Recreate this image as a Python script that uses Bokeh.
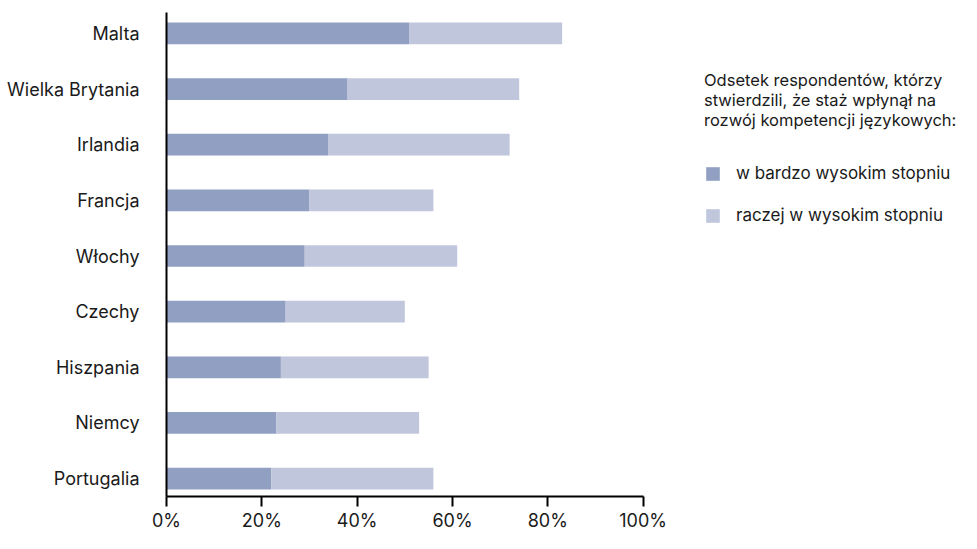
from bokeh.plotting import figure
from bokeh.models import (ColumnDataSource, Range1d, FixedTicker, PrintfTickFormatter,
                          Legend, LegendItem)
from bokeh.embed import file_html
from bokeh.resources import INLINE

categories = ["Malta", "Wielka Brytania", "Irlandia", "Francja", "Włochy",
              "Czechy", "Hiszpania", "Niemcy", "Portugalia"]
very_high = [51, 38, 34, 30, 29, 25, 24, 23, 22]
rather_high = [32, 36, 38, 26, 32, 25, 31, 30, 34]
series_labels = ["w bardzo wysokim stopniu", "raczej w wysokim stopniu"]
legend_title = "Odsetek respondentów, którzy\nstwierdzili, że staż wpłynął na\nrozwój kompetencji językowych:"
x_ticks = [0, 20, 40, 60, 80, 100]

FONT = "Inter"
TXT = "#1a1a1a"
DARK = "#919fc2"
LIGHT = "#c0c6dc"

n = len(categories)
pos = [n - 1 - i for i in range(n)]
src = ColumnDataSource(dict(pos=pos, cat=categories, v1=very_high, v2=rather_high))

# frame spans to the right edge so the legend can sit inside it;
# the x axis itself is bounded to 0..100
p = figure(width=961, height=533, output_backend="svg", toolbar_location=None,
           x_range=Range1d(0, 166.8), y_range=Range1d(-0.322, 8.376),
           min_border_left=166, min_border_right=0, min_border_top=12,
           min_border_bottom=35)
p.outline_line_color = None
p.xgrid.grid_line_color = None
p.ygrid.grid_line_color = None

rs = p.hbar_stack(["v1", "v2"], y="pos", height=0.39, color=[DARK, LIGHT],
                  line_color=None, source=src)

# axes
p.xaxis.bounds = (0, 100)
p.xaxis.ticker = FixedTicker(ticks=x_ticks)
p.xaxis.formatter = PrintfTickFormatter(format="%d%%")
p.xaxis.axis_line_width = 2
p.xaxis.axis_line_color = "black"
p.xaxis.major_tick_line_width = 2
p.xaxis.major_tick_line_color = "black"
p.xaxis.major_tick_out = 10
p.xaxis.major_tick_in = 0
p.xaxis.minor_tick_line_color = None
p.xaxis.major_label_standoff = 3
p.xaxis.major_label_text_font = FONT
p.xaxis.major_label_text_font_size = "18px"
p.xaxis.major_label_text_color = TXT

p.yaxis.ticker = FixedTicker(ticks=pos)
p.yaxis.major_label_overrides = {pp: c for pp, c in zip(pos, categories)}
p.yaxis.axis_line_width = 2
p.yaxis.axis_line_color = "black"
p.yaxis.major_tick_line_color = None
p.yaxis.minor_tick_line_color = None
p.yaxis.major_label_standoff = 21
p.yaxis.major_label_text_font = FONT
p.yaxis.major_label_text_font_size = "18px"
p.yaxis.major_label_text_color = TXT

legend = Legend(items=[LegendItem(label=series_labels[0], renderers=[rs[0]]),
                       LegendItem(label=series_labels[1], renderers=[rs[1]])],
                location=(538, 271), title=legend_title)
legend.title_text_font = FONT
legend.title_text_font_size = "16.5px"
legend.title_text_font_style = "normal"
legend.title_text_color = TXT
legend.title_text_line_height = 1.6
legend.title_standoff = 33
legend.label_text_font = FONT
legend.label_text_font_size = "17px"
legend.label_text_color = TXT
legend.glyph_width = 17
legend.glyph_height = 17
legend.label_height = 20
legend.label_standoff = 15
legend.spacing = 22
legend.padding = 0
legend.margin = 0
legend.border_line_color = None
legend.background_fill_color = None
p.add_layout(legend, "center")

open("out.html", "w").write(file_html(p, INLINE))
